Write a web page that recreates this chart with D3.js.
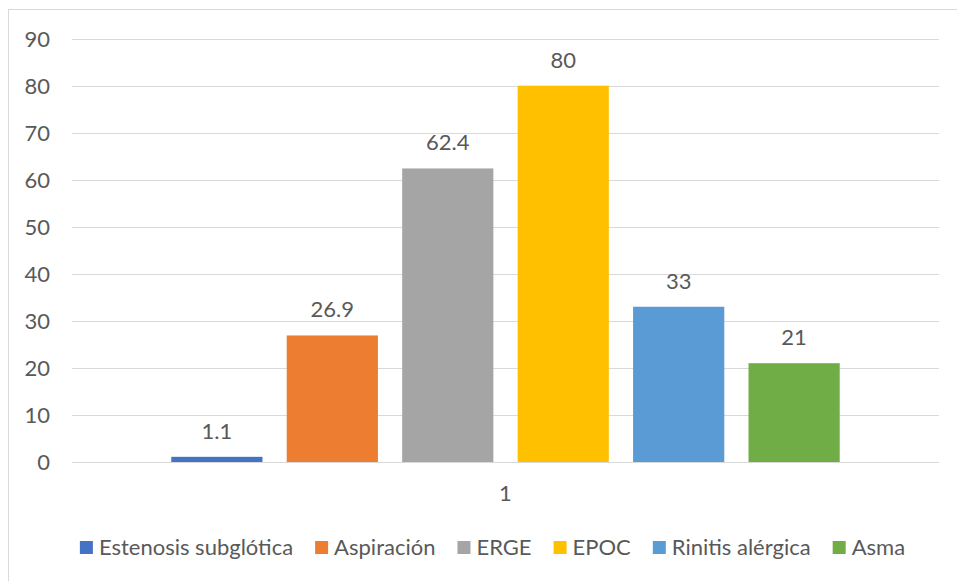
<!DOCTYPE html>
<html>
<head>
<meta charset="utf-8">
<script src="https://cdn.jsdelivr.net/npm/d3@7"></script>
<style>
  html, body { margin: 0; padding: 0; background: #ffffff; }
  svg { display: block; }
  text { font-family: Lato, "Open Sans", sans-serif; fill: #595959; }
</style>
</head>
<body>
<svg id="chart" width="957" height="581"></svg>
<script>
// Data
const category = "1";
const series = ["Estenosis subglótica", "Aspiración", "ERGE", "EPOC", "Rinitis alérgica", "Asma"];
const values = [1.1, 26.9, 62.4, 80, 33, 21];
const colors = ["#4472C4", "#ED7D31", "#A5A5A5", "#FFC000", "#5B9BD5", "#70AD47"];
const yTicks = [0, 10, 20, 30, 40, 50, 60, 70, 80, 90];

const svg = d3.select("#chart");
const fontSize = 22;

// Chart frame
svg.append("rect")
  .attr("x", 8.5).attr("y", 9.5)
  .attr("width", 960).attr("height", 590)
  .attr("fill", "#ffffff")
  .attr("stroke", "#d9d9d9").attr("stroke-width", 1);

const plot = { left: 72, right: 939, top: 38.6, bottom: 462 };

const y = d3.scaleLinear().domain([0, 90]).range([plot.bottom, plot.top]);
const x = d3.scaleBand().domain(series)
  .range([plot.left, plot.right])
  .paddingInner(0.21).paddingOuter(0.86);

// Gridlines
svg.append("g")
  .selectAll("line")
  .data(yTicks)
  .join("line")
  .attr("x1", plot.left).attr("x2", plot.right)
  .attr("y1", d => Math.round(y(d)) + 0.5)
  .attr("y2", d => Math.round(y(d)) + 0.5)
  .attr("stroke", "#d9d9d9").attr("stroke-width", 1);

// Y axis labels
const yAxis = d3.axisLeft(y).tickValues(yTicks).tickSize(0).tickPadding(0);
const gy = svg.append("g").attr("transform", "translate(50,0)").call(yAxis);
gy.select(".domain").remove();
gy.selectAll("text")
  .attr("font-family", "Lato, 'Open Sans', sans-serif")
  .attr("font-size", fontSize)
  .attr("fill", "#595959")
  .attr("dy", "0.36em");

// Bars
svg.append("g")
  .selectAll("rect")
  .data(series)
  .join("rect")
  .attr("x", d => x(d))
  .attr("width", x.bandwidth())
  .attr("y", (d, i) => y(values[i]))
  .attr("height", (d, i) => y(0) - y(values[i]))
  .attr("fill", (d, i) => colors[i]);

// Value labels
svg.append("g")
  .selectAll("text")
  .data(series)
  .join("text")
  .attr("x", d => x(d) + x.bandwidth() / 2)
  .attr("y", (d, i) => y(values[i]) - 18)
  .attr("text-anchor", "middle")
  .attr("font-size", fontSize)
  .text((d, i) => String(values[i]));

// Category label
svg.append("text")
  .attr("x", (plot.left + plot.right) / 2)
  .attr("y", 501)
  .attr("text-anchor", "middle")
  .attr("font-size", fontSize)
  .text(category);

// Legend
const legend = svg.append("g");
const items = legend.selectAll("g")
  .data(series)
  .join("g");
items.append("rect")
  .attr("width", 13).attr("height", 13)
  .attr("y", 541)
  .attr("fill", (d, i) => colors[i]);
items.append("text")
  .attr("x", 19)
  .attr("y", 555)
  .attr("font-size", fontSize)
  .text(d => d);

const gap = 22;
let widths = [];
items.each(function () {
  widths.push(d3.select(this).select("text").node().getComputedTextLength() + 19);
});
const total = d3.sum(widths) + gap * (widths.length - 1);
let cx = 492.5 - total / 2;
items.each(function (d, i) {
  d3.select(this).attr("transform", `translate(${cx},0)`);
  cx += widths[i] + gap;
});
</script>
</body>
</html>
